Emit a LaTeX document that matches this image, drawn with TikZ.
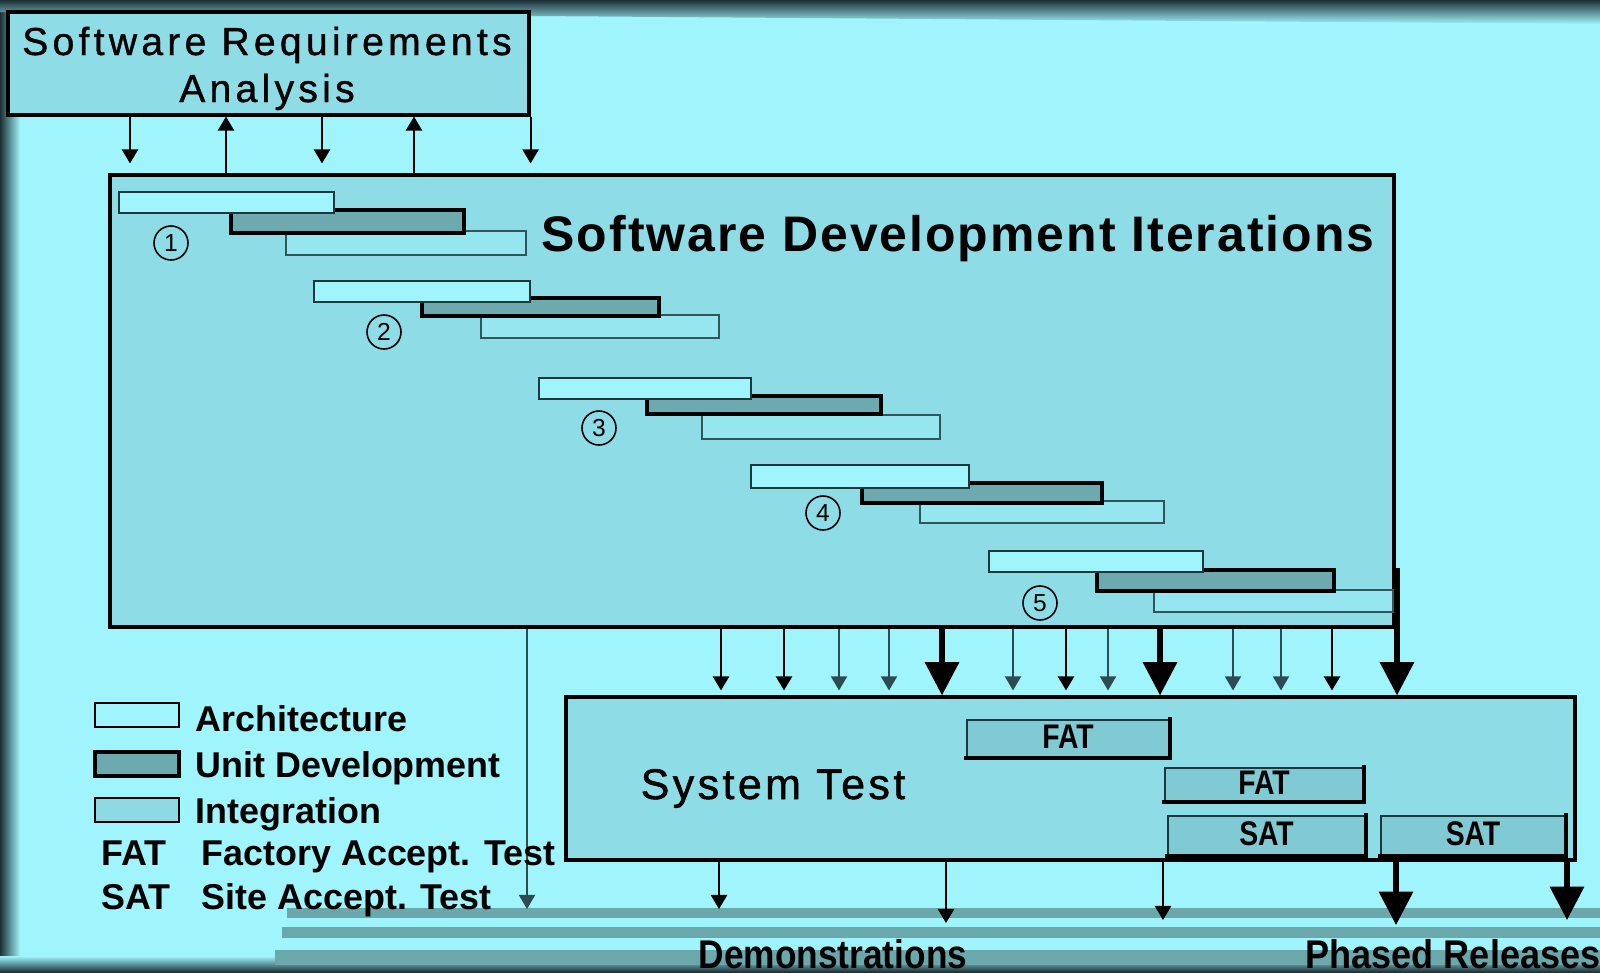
\documentclass[tikz,border=0pt]{standalone}
\usepackage{fontspec}
\usepackage{graphicx}
\setmainfont{Liberation Sans}
\newfontfamily\spacedfam[LetterSpace=11,FakeBold=1]{Liberation Sans}
\newfontfamily\titlefam[LetterSpace=4]{Liberation Sans}
\newfontfamily\stfam[LetterSpace=8,FakeBold=1.2]{Liberation Sans}
\usetikzlibrary{arrows.meta,fit}

\definecolor{bg}{RGB}{160,244,252}
\definecolor{panel}{RGB}{142,220,230}
\definecolor{unitc}{RGB}{108,170,176}
\definecolor{integc}{RGB}{150,230,240}
\definecolor{testc}{RGB}{128,202,212}
\definecolor{band}{RGB}{106,168,172}
\definecolor{frame}{RGB}{28,48,54}
\definecolor{archline}{RGB}{30,55,60}
\definecolor{integline}{RGB}{50,85,90}
\definecolor{greyline}{RGB}{45,75,80}

\newcommand\sraFont{\spacedfam\fontsize{11.1}{13.4}\selectfont}
\newcommand\titleFont{\titlefam\bfseries\fontsize{14.2}{16}\selectfont}
\newcommand\stFont{\stfam\fontsize{12.2}{14}\selectfont}
\newcommand\legendFont{\bfseries\fontsize{10.2}{12}\selectfont}
\newcommand\testFont{\bfseries\fontsize{9.7}{11}\selectfont}
\newcommand\bottomFont{\bfseries\fontsize{11.4}{13}\selectfont}

\begin{document}
\begin{tikzpicture}[x=0.01cm,y=-0.01cm,
  panelbox/.style={draw=black, line width=0.9pt, fill=panel, inner sep=0pt},
  archbar/.style={draw=archline, line width=0.6pt, fill=bg, inner sep=0pt},
  unitbar/.style={draw=black, line width=1.4pt, fill=unitc, inner sep=0pt},
  integbar/.style={draw=integline, line width=0.65pt, fill=integc, inner sep=0pt},
  keybox/.style={draw=black, line width=0.8pt, inner sep=0pt},
  testbox/.style={draw=archline, line width=0.6pt, fill=testc, inner sep=0pt},
  testlabel/.style={inner sep=0pt, font=\testFont},
  testshadow/.style={line width=1.2pt, line cap=rect},
  iterno/.style={circle, draw=black, line width=0.45pt, minimum size=0.34cm, inner sep=0pt, font=\fontsize{7}{8}\selectfont},
  sarrow/.style={line width=0.6pt, -{Triangle[length=4pt,width=4.6pt]}},
  farrow/.style={line width=0.4pt, draw=greyline, -{Triangle[length=4pt,width=4.6pt]}},
  larrow/.style={line width=1.5pt, -{Triangle[length=9.5pt,width=9.5pt]}},
  legendtxt/.style={anchor=base west, inner sep=0pt, font=\legendFont},
  bottomtxt/.style={anchor=base, inner sep=0pt, font=\bottomFont},
  headtxt/.style={anchor=base, inner sep=0pt},
]
\useasboundingbox (0,0) rectangle (1600,972);
\fill[bg] (0,0) rectangle (1600,972);

% dark frame along the left, top and bottom edges
\shade[left color=frame, right color=bg] (0,0) rectangle (20,972);
\shade[top color=frame, bottom color=bg] (0,0) -- (1600,0) -- (1600,24) -- (0,12) -- cycle;
\shade[bottom color=frame, top color=bg] (0,956) rectangle (1600,972);

% release bands along the bottom
\fill[band] (287,908) rectangle (1600,918);
\fill[band] (282,927) rectangle (1600,938);
\fill[band] (275,950) rectangle (1600,965);

% main boxes
\node[panelbox, fit={(8,12) (529,115)}] (sra) {};
\node[panelbox, fit={(110,175) (1394,627)}] (sdi) {};
\node[panelbox, fit={(566,697) (1575,860)}] (st) {};

\node[headtxt, font=\sraFont] (sra1) at (267,55) {Software Requirements};
\node[headtxt, font=\sraFont] (sra2) at (267,102) {Analysis};
\node[headtxt, font=\titleFont] (title) at (958,251)
  {Software Development Iterations};
\node[headtxt, font=\stFont] (sttitle) at (773,799) {System Test};

% iteration bars: integration, unit development, architecture
\node[integbar, fit={(286,231) (526,255)}] (i1) {};
\node[unitbar,  fit={(231,210) (464,233)}] (u1) {};
\node[archbar,  fit={(119,192) (334,213)}] (a1) {};
\node[iterno] (n1) at (171,243) {1};

\node[integbar, fit={(481,315) (719,338)}] (i2) {};
\node[unitbar,  fit={(422,298) (659,316)}] (u2) {};
\node[archbar,  fit={(314,281) (530,302)}] (a2) {};
\node[iterno] (n2) at (384,332) {2};

\node[integbar, fit={(702,415) (940,439)}] (i3) {};
\node[unitbar,  fit={(647,396) (881,414)}] (u3) {};
\node[archbar,  fit={(539,378) (751,399)}] (a3) {};
\node[iterno] (n3) at (599,428) {3};

\node[integbar, fit={(920,501) (1164,523)}] (i4) {};
\node[unitbar,  fit={(862,483) (1102,503)}] (u4) {};
\node[archbar,  fit={(751,465) (969,488)}] (a4) {};
\node[iterno] (n4) at (823,513) {4};

\node[integbar, fit={(1154,590) (1393,612)}] (i5) {};
\node[unitbar,  fit={(1097,570) (1334,591)}] (u5) {};
\node[archbar,  fit={(989,551) (1203,572)}] (a5) {};
\node[iterno] (n5) at (1040,603) {5};

% acceptance test boxes
\node[testbox, fit={(967,720) (1169,757)}] (fat1) {};
\node[testbox, fit={(1165,768) (1363,801)}] (fat2) {};
\node[testbox, fit={(1168,816) (1365,855)}] (sat1) {};
\node[testbox, fit={(1381,816) (1565,855)}] (sat2) {};
\foreach \b in {fat1,fat2,sat1,sat2}
  \draw[testshadow] (\b.south west) -- (\b.south east) -- (\b.north east);
\node[testlabel] (fat1t) at ([yshift=0.02cm]fat1.center) {\scalebox{0.83}[1]{FAT}};
\node[testlabel] (fat2t) at ([yshift=0.02cm]fat2.center) {\scalebox{0.83}[1]{FAT}};
\node[testlabel] (sat1t) at ([yshift=0.02cm]sat1.center) {\scalebox{0.83}[1]{SAT}};
\node[testlabel] (sat2t) at ([yshift=0.02cm]sat2.center) {\scalebox{0.83}[1]{SAT}};

% requirements <-> iterations
\draw[sarrow, shorten >=0.1cm] (130,0 |- sra.south) -- (130,0 |- sdi.north);
\draw[sarrow] (226,0 |- sdi.north) -- (226,0 |- sra.south);
\draw[sarrow, shorten >=0.1cm] (322,0 |- sra.south) -- (322,0 |- sdi.north);
\draw[sarrow] (414,0 |- sdi.north) -- (414,0 |- sra.south);
\draw[sarrow, shorten >=0.1cm] (sra.south east) -- (sra.south east |- sdi.north);

% iterations -> system test
\foreach \x in {721,784,1066,1332}
  \draw[sarrow, shorten >=0.05cm] (\x,0 |- sdi.south) -- (\x,0 |- st.north);
\foreach \x in {839,889,1013,1108,1233,1281}
  \draw[farrow, shorten >=0.05cm] (\x,0 |- sdi.south) -- (\x,0 |- st.north);
\foreach \x in {942,1160}
  \draw[larrow] (\x,0 |- sdi.south) -- (\x,0 |- st.north);
\coordinate (r5) at (1397,568);
\draw[larrow] (r5) -- (r5 |- st.north);

% iterations -> demonstrations
\coordinate (d0) at (527,909);
\draw[farrow] (d0 |- sdi.south) -- (d0);

% system test -> demonstrations and releases
\coordinate (d1) at (719,909);
\coordinate (d2) at (946,923);
\coordinate (d3) at (1163,920);
\coordinate (p1) at (1396,925);
\coordinate (p2) at (1567,920);
\draw[sarrow] (d1 |- st.south) -- (d1);
\draw[sarrow] (d2 |- st.south) -- (d2);
\draw[sarrow] (d3 |- st.south) -- (d3);
\draw[larrow] (p1 |- st.south) -- (p1);
\draw[larrow] (p2 |- st.south) -- (p2);

\node[bottomtxt] (demo) at (833,968) {\scalebox{0.88}[1]{Demonstrations}};
\node[bottomtxt] (rel) at (1453,968) {\scalebox{0.9}[1]{Phased Releases}};

% legend
\node[keybox, fill=bg,    fit={(95,703) (179,727)}] (ka) {};
\node[keybox, fill=unitc, line width=1.2pt, fit={(95,752) (179,776)}] (ku) {};
\node[keybox, fill=integc!80!unitc, fit={(95,798) (179,822)}] (ki) {};
\node[legendtxt] (ta) at (195,731) {Architecture};
\node[legendtxt] (tu) at (195,777) {Unit Development};
\node[legendtxt] (ti) at (195,823) {Integration};
\node[legendtxt] (kf) at (101,865) {FAT};
\node[legendtxt] (tf) at (201,865) {Factory Accept. Test};
\node[legendtxt] (ks) at (101,909) {SAT};
\node[legendtxt] (ts) at (201,909) {Site Accept. Test};
\end{tikzpicture}
\end{document}
